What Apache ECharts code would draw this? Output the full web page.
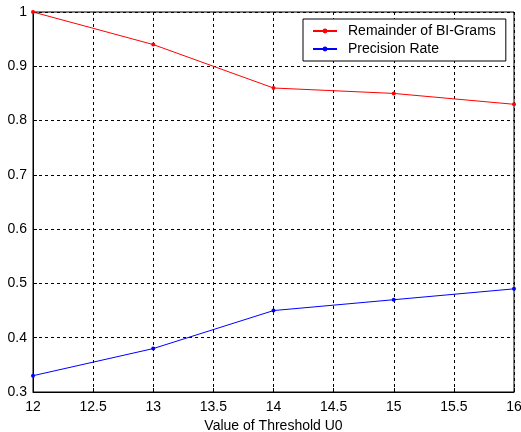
<!DOCTYPE html>
<html>
<head>
    <meta charset="utf-8">
    <title>Threshold U0</title>
    <script src="https://cdn.jsdelivr.net/npm/echarts@6/dist/echarts.min.js"></script>
    <style>
        html, body { margin: 0; padding: 0; background: #fff; }
        #chart { width: 521px; height: 432px; }
    </style>
</head>
<body>
    <div id="chart"></div>
    <script type="text/javascript">
        // threshold values and the two curves
        var thresholds = [12, 13, 14, 15, 16];
        var remainderBiGrams = [1.0, 0.94, 0.86, 0.85, 0.83];
        var precisionRate = [0.33, 0.38, 0.45, 0.47, 0.49];

        function pairs(xs, ys) {
            var out = [];
            for (var i = 0; i < xs.length; i++) out.push([xs[i], ys[i]]);
            return out;
        }

        var font = 'Liberation Sans, Arial, sans-serif';
        var myChart = echarts.init(document.getElementById('chart'));

        var option = {
            animation: false,
            backgroundColor: '#fff',
            grid: {
                left: 33, right: 7, top: 12, bottom: 40,
                show: true, borderColor: '#000', borderWidth: 1,
                containLabel: false,
                outerBoundsMode: 'none'
            },
            legend: {
                orient: 'vertical',
                left: 303, top: 19,
                align: 'left',
                backgroundColor: '#fff',
                borderColor: '#000',
                borderWidth: 1,
                borderRadius: 0,
                padding: [5, 10, 5, 9],
                itemGap: 4,
                itemWidth: 24,
                itemHeight: 6,
                textStyle: { color: '#000', fontSize: 14, fontFamily: font, padding: [0, 0, 0, 6] },
                data: ['Remainder of BI-Grams', 'Precision Rate']
            },
            xAxis: {
                type: 'value',
                min: 12, max: 16, interval: 0.5,
                name: 'Value of Threshold U0',
                nameLocation: 'middle',
                nameGap: 25,
                nameTextStyle: { color: '#000', fontSize: 14, fontFamily: font },
                axisLine: { lineStyle: { color: '#000' } },
                axisTick: { inside: true, length: 4, lineStyle: { color: '#000' } },
                axisLabel: { color: '#000', fontSize: 14, fontFamily: font, margin: 8 },
                splitLine: { show: true, lineStyle: { color: '#000', type: [3, 3] } }
            },
            yAxis: {
                type: 'value',
                min: 0.3, max: 1, interval: 0.1,
                axisLine: { show: true, lineStyle: { color: '#000' } },
                axisTick: { show: true, inside: true, length: 4, lineStyle: { color: '#000' } },
                axisLabel: { color: '#000', fontSize: 14, fontFamily: font, margin: 6,
                    formatter: function (v) { return String(Math.round(v * 10) / 10); } },
                splitLine: { show: true, lineStyle: { color: '#000', type: [3, 3] } }
            },
            series: [
                {
                    name: 'Remainder of BI-Grams',
                    type: 'line',
                    data: pairs(thresholds, remainderBiGrams),
                    symbol: 'circle', symbolSize: 4,
                    lineStyle: { color: '#ff0000', width: 1 },
                    itemStyle: { color: '#ff0000' }
                },
                {
                    name: 'Precision Rate',
                    type: 'line',
                    data: pairs(thresholds, precisionRate),
                    symbol: 'circle', symbolSize: 4,
                    lineStyle: { color: '#0000ff', width: 1 },
                    itemStyle: { color: '#0000ff' }
                }
            ]
        };

        myChart.setOption(option);
    </script>
</body>
</html>
